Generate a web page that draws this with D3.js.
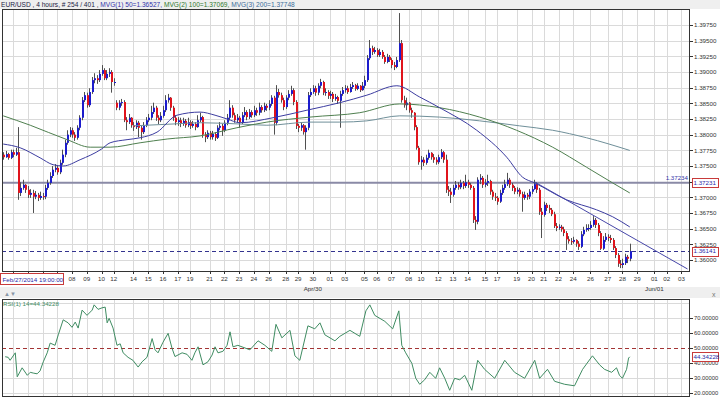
<!DOCTYPE html>
<html>
<head>
<meta charset="utf-8">
<script src="https://cdn.jsdelivr.net/npm/d3@7"></script>
<style>
  body { margin: 0; background: #efefef; }
  svg { display: block; font-family: "Liberation Sans", Arial, sans-serif; }
</style>
</head>
<body>
<svg id="chart" width="720" height="398"></svg>
<script>
// ---- data (EUR/USD 4h) ----
const firstOpen = 1.3768;
const gapOpens = { 46: 1.3851 };

const closes = [
  1.3764,1.3769,1.3763,1.3772,1.3768,1.3772,1.3707,1.3715,1.3720,1.3712,
  1.3704,1.3707,1.3701,1.3704,1.3699,1.3702,1.3701,1.3715,1.3723,1.3734,
  1.3744,1.3747,1.3740,1.3755,1.3768,1.3787,1.3800,1.3807,1.3800,1.3795,
  1.3811,1.3827,1.3855,1.3863,1.3847,1.3868,1.3887,1.3890,1.3887,1.3897,
  1.3903,1.3890,1.3897,1.3900,1.3884,1.3884,1.3843,1.3851,1.3852,1.3823,
  1.3820,1.3827,1.3815,1.3812,1.3819,1.3811,1.3804,1.3815,1.3823,1.3827,
  1.3836,1.3843,1.3827,1.3823,1.3830,1.3839,1.3855,1.3859,1.3843,1.3827,
  1.3820,1.3823,1.3817,1.3822,1.3815,1.3820,1.3814,1.3817,1.3812,1.3823,
  1.3828,1.3800,1.3796,1.3803,1.3796,1.3801,1.3795,1.3811,1.3814,1.3807,
  1.3819,1.3827,1.3843,1.3831,1.3823,1.3827,1.3820,1.3831,1.3836,1.3828,
  1.3836,1.3831,1.3839,1.3835,1.3844,1.3839,1.3846,1.3843,1.3849,1.3859,
  1.3819,1.3868,1.3863,1.3855,1.3844,1.3859,1.3865,1.3871,1.3852,1.3814,
  1.3811,1.3815,1.3804,1.3811,1.3863,1.3868,1.3874,1.3867,1.3878,1.3884,
  1.3867,1.3868,1.3862,1.3865,1.3857,1.3860,1.3854,1.3865,1.3871,1.3874,
  1.3868,1.3876,1.3879,1.3873,1.3878,1.3871,1.3878,1.3887,1.3922,1.3938,
  1.3932,1.3935,1.3927,1.3932,1.3924,1.3916,1.3924,1.3919,1.3911,1.3908,
  1.3919,1.3946,1.3855,1.3847,1.3851,1.3839,1.3835,1.3812,1.3779,1.3756,
  1.3760,1.3755,1.3763,1.3771,1.3764,1.3760,1.3756,1.3764,1.3772,1.3760,
  1.3712,1.3709,1.3704,1.3715,1.3720,1.3716,1.3723,1.3718,1.3724,1.3720,
  1.3715,1.3664,1.3661,1.3728,1.3731,1.3720,1.3723,1.3726,1.3709,1.3701,
  1.3699,1.3693,1.3707,1.3715,1.3721,1.3728,1.3720,1.3715,1.3709,1.3712,
  1.3705,1.3699,1.3704,1.3701,1.3709,1.3713,1.3721,1.3712,1.3677,1.3672,
  1.3688,1.3683,1.3680,1.3673,1.3654,1.3651,1.3653,1.3649,1.3643,1.3633,
  1.3630,1.3629,1.3632,1.3626,1.3621,1.3641,1.3648,1.3651,1.3651,1.3656,
  1.3664,1.3656,1.3643,1.3618,1.3632,1.3637,1.3635,1.3632,1.3619,1.3608,
  1.3594,1.3592,1.3595,1.3605,1.3602,1.36141
];
const highs = [
  1.3772,1.3774,1.3771,1.3776,1.3776,1.3779,1.3812,1.3724,1.3728,1.3721,
  1.3718,1.3713,1.3712,1.3710,1.3707,1.3709,1.3707,1.3720,1.3728,1.3740,
  1.3750,1.3753,1.3750,1.3760,1.3776,1.3792,1.3807,1.3812,1.3811,1.3804,
  1.3815,1.3831,1.3860,1.3868,1.3867,1.3874,1.3892,1.3898,1.3895,1.3903,
  1.3911,1.3906,1.3903,1.3906,1.3903,1.3890,1.3855,1.3855,1.3857,1.3855,
  1.3828,1.3833,1.3828,1.3820,1.3823,1.3822,1.3814,1.3820,1.3828,1.3833,
  1.3846,1.3851,1.3846,1.3831,1.3836,1.3846,1.3863,1.3865,1.3860,1.3846,
  1.3831,1.3828,1.3827,1.3827,1.3825,1.3827,1.3823,1.3822,1.3820,1.3831,
  1.3835,1.3830,1.3804,1.3807,1.3806,1.3806,1.3804,1.3815,1.3820,1.3817,
  1.3823,1.3833,1.3855,1.3847,1.3835,1.3833,1.3830,1.3836,1.3844,1.3839,
  1.3841,1.3839,1.3846,1.3843,1.3851,1.3847,1.3851,1.3849,1.3855,1.3863,
  1.3862,1.3879,1.3873,1.3867,1.3859,1.3863,1.3871,1.3878,1.3874,1.3855,
  1.3817,1.3820,1.3817,1.3815,1.3868,1.3874,1.3879,1.3878,1.3882,1.3889,
  1.3886,1.3874,1.3871,1.3870,1.3868,1.3865,1.3862,1.3870,1.3876,1.3879,
  1.3878,1.3881,1.3884,1.3881,1.3882,1.3879,1.3884,1.3894,1.3927,1.3951,
  1.3942,1.3940,1.3938,1.3937,1.3935,1.3927,1.3929,1.3927,1.3922,1.3916,
  1.3924,1.3994,1.3951,1.3862,1.3859,1.3852,1.3843,1.3836,1.3815,1.3782,
  1.3766,1.3764,1.3768,1.3776,1.3772,1.3769,1.3764,1.3768,1.3777,1.3774,
  1.3768,1.3718,1.3715,1.3720,1.3726,1.3724,1.3728,1.3726,1.3736,1.3728,
  1.3723,1.3718,1.3670,1.3732,1.3737,1.3734,1.3729,1.3736,1.3728,1.3712,
  1.3707,1.3702,1.3712,1.3720,1.3728,1.3739,1.3731,1.3723,1.3718,1.3716,
  1.3715,1.3709,1.3709,1.3707,1.3713,1.3718,1.3728,1.3724,1.3715,1.3683,
  1.3693,1.3691,1.3688,1.3683,1.3677,1.3659,1.3657,1.3656,1.3653,1.3646,
  1.3638,1.3635,1.3637,1.3633,1.3630,1.3646,1.3653,1.3657,1.3657,1.3662,
  1.3670,1.3667,1.3659,1.3646,1.3638,1.3643,1.3641,1.3640,1.3635,1.3622,
  1.3611,1.3600,1.3602,1.3610,1.3608,1.3626
];
const lows = [
  1.3760,1.3763,1.3760,1.3761,1.3764,1.3766,1.3696,1.3702,1.3712,1.3707,
  1.3699,1.3699,1.3675,1.3697,1.3694,1.3696,1.3696,1.3697,1.3712,1.3720,
  1.3731,1.3740,1.3736,1.3737,1.3752,1.3764,1.3784,1.3796,1.3795,1.3790,
  1.3792,1.3807,1.3823,1.3852,1.3843,1.3844,1.3865,1.3882,1.3881,1.3884,
  1.3894,1.3887,1.3887,1.3892,1.3867,1.3878,1.3839,1.3839,1.3846,1.3820,
  1.3807,1.3817,1.3811,1.3806,1.3809,1.3796,1.3792,1.3801,1.3812,1.3820,
  1.3823,1.3833,1.3822,1.3817,1.3820,1.3827,1.3836,1.3851,1.3838,1.3822,
  1.3815,1.3814,1.3812,1.3814,1.3811,1.3812,1.3809,1.3811,1.3807,1.3811,
  1.3820,1.3795,1.3788,1.3793,1.3792,1.3792,1.3790,1.3793,1.3807,1.3798,
  1.3804,1.3815,1.3823,1.3827,1.3819,1.3820,1.3811,1.3817,1.3828,1.3823,
  1.3825,1.3827,1.3828,1.3830,1.3831,1.3835,1.3836,1.3838,1.3839,1.3846,
  1.3800,1.3815,1.3859,1.3851,1.3839,1.3841,1.3855,1.3862,1.3847,1.3809,
  1.3804,1.3806,1.3800,1.3776,1.3807,1.3860,1.3865,1.3862,1.3863,1.3874,
  1.3863,1.3862,1.3857,1.3857,1.3852,1.3854,1.3849,1.3811,1.3862,1.3867,
  1.3865,1.3867,1.3873,1.3870,1.3871,1.3868,1.3870,1.3874,1.3884,1.3919,
  1.3927,1.3929,1.3924,1.3924,1.3921,1.3913,1.3914,1.3916,1.3906,1.3903,
  1.3906,1.3916,1.3851,1.3843,1.3839,1.3835,1.3827,1.3807,1.3776,1.3752,
  1.3744,1.3750,1.3752,1.3760,1.3760,1.3755,1.3752,1.3753,1.3761,1.3755,
  1.3707,1.3702,1.3691,1.3701,1.3712,1.3712,1.3713,1.3713,1.3715,1.3715,
  1.3712,1.3659,1.3648,1.3657,1.3721,1.3715,1.3716,1.3718,1.3704,1.3696,
  1.3694,1.3688,1.3691,1.3704,1.3712,1.3718,1.3715,1.3710,1.3705,1.3705,
  1.3701,1.3677,1.3696,1.3696,1.3697,1.3705,1.3712,1.3707,1.3672,1.3635,
  1.3669,1.3678,1.3675,1.3670,1.3651,1.3646,1.3648,1.3645,1.3638,1.3616,
  1.3626,1.3624,1.3626,1.3621,1.3616,1.3619,1.3638,1.3645,1.3646,1.3648,
  1.3653,1.3651,1.3638,1.3616,1.3616,1.3629,1.3630,1.3627,1.3616,1.3603,
  1.3589,1.3587,1.3587,1.3592,1.3595,1.3598
];

// moving averages, read at candle positions
const ma50Idx = [0,6.9,15,20.3,24.4,31.3,40,43.5,50.4,55.7,62.6,70.7,80.1,86.2,91.1,96.3,109.8,123.6,137,148,160.2,169.5,177.6,192.7,204.9,211.4,216.3,229.3,241.5,248,255];
const ma50Val = [1.3785,1.3779,1.3763,1.3752,1.3750,1.3760,1.3777,1.3787,1.3792,1.3795,1.3804,1.3831,1.3836,1.3831,1.3825,1.3819,1.3827,1.3839,1.3851,1.3863,1.3878,1.3860,1.3843,1.3807,1.3764,1.3732,1.3723,1.3696,1.3680,1.3669,1.36527];
const ma100Idx = [0,11,26,35.4,43.5,55.7,66.7,80.1,95.1,107.3,124.8,145.1,161.4,177.6,193.9,208.9,223.6,237.4,248,255];
const ma100Val = [1.3830,1.3815,1.3792,1.3780,1.3780,1.3787,1.3793,1.3798,1.3811,1.3820,1.3828,1.3835,1.3849,1.3843,1.3828,1.3807,1.3780,1.3748,1.3723,1.37069];
const ma200Idx = [52.8,69.1,80.1,96.3,107.3,124.8,137,148,161.4,177.6,193.9,210.2,223.6,237.4,255];
const ma200Val = [1.3814,1.3817,1.3819,1.3817,1.3815,1.3820,1.3820,1.3822,1.3830,1.3828,1.3822,1.3814,1.3807,1.3795,1.37748];

// RSI(14)
const rsiIdx = [0.8,2,2.8,4.9,5.7,7.7,9.8,11,12.2,13.8,15,16.3,17.9,19.1,21.1,22.4,24.4,26.4,28,29.3,30.5,32.1,34.1,36.2,37,38.6,40.2,41.5,42.3,43.1,44.7,46.3,47.6,48.8,50.8,52.8,54.9,56.5,58.5,60.6,61.8,63,65,67.1,68.7,69.9,72.8,74.8,76.8,78,79.3,81.3,83.3,85,86.2,87.4,89.4,91.1,92.3,93.5,95.5,100.4,103.7,106.5,109.3,111,113.4,116.7,118.7,120.7,124,126.8,128.9,130.9,135,137,141.1,145.1,147.6,149.2,151.2,155.3,158.5,161,162.2,163.8,166.3,167.9,169.5,171.5,173.6,176,177.6,179.7,181.7,183.7,185.8,187.8,190.7,193.1,195.9,200,204.1,208.1,212.2,216.3,218.3,221.5,224.4,228.5,232.5,235.8,239.8,242.7,244.7,247.6,249.6,250.8,252,253.7,254.5,255];
const rsiVal = [44.4,44,42,47,31,37,32,34,33.5,33,35,41,47,53.5,52,59,69,67,64,67.5,63.5,75.5,72,75.5,79,76,77,77.5,67,70,63.5,52,53,47,44,42,37.5,41,44,56.5,49,47,54,60,50,44.5,47,46,42,47,51,39,41,45.5,51,47,48,52,61,51,52,49,55,52,48,66,57,62,45,42,65,63,67,59,55,58,62,58,75,79,72,68,63,75,52,47,40,30,26,29,34,30,37,30,22,30,29,32,22,42,36,30,42,34,30,42,30,36,28,26,25,36,45,39,36,34,37,32,30,36,43.5,44.34228];

// x axis: candle index of each day grid line; first four labels sit under the cursor box
const tickIdx = [4,10,16,22,28,34,40,45,53,59,65,71,76,84,90,96,102,108,115,120,126,133,139,147,152,158,165,170,177,183,189,196,201,209,215,220,226,232,239,246,252,258,265,270,276];
const tickLabels = ["","","","","08","09","10","12","14","15","16","17","19","21","22","23","24","26","28","29","30","01","03","05","06","07","08","10","12","13","14","15","17","19","20","21","22","24","26","27","28","29","01","02","03"];
const monthIdx = [126, 265];
const monthLabels = ["Apr/30", "Jun/01"];

const priceTicks = [1.36,1.3625,1.365,1.3675,1.37,1.3725,1.375,1.3775,1.38,1.3825,1.385,1.3875,1.39,1.3925,1.395,1.3975];
const rsiTicks = [20,30,40,50,60,70,80];

const levelLine = 1.37231, levelText = "1.37234";
const bidPrice = 1.36141;
const trendIdx = [216.3, 278.5];
const trendVal = [1.37245, 1.35856];
const cursorText = "Feb/27/2014 19:00:00";

// ---- layout ----
const W = 720, H = 398;
const L = 2, R = 690, T = 9, B = 271;
const rT = 299, rB = 396;
const slots = 280;

const svg = d3.select("#chart");
const x = d3.scaleLinear().domain([-0.5, slots - 0.5]).range([L, R]);
const y = d3.scaleLinear().domain([1.35824, 1.40005]).range([B, T]);
const yr = d3.scaleLinear().domain([18.2, 82.9]).range([rB, rT]);
const fmt5 = d3.format(".5f");
const px = v => Math.round(v) + 0.5;
const fs = "6.2px";

// panels
svg.append("rect").attr("x", 0).attr("y", T).attr("width", W).attr("height", 278).attr("fill", "#fff");
svg.append("rect").attr("x", 0).attr("y", rT - 1).attr("width", W).attr("height", H - rT + 1).attr("fill", "#fff");

// title
const title = svg.append("text").attr("x", 1).attr("y", 7).style("font-size", "6.6px");
title.append("tspan").attr("fill", "#222244").text("EUR/USD , 4 hours, # 254 / 401 , ");
title.append("tspan").attr("fill", "#3333aa").text("MVG(1) 50=1.36527, ");
title.append("tspan").attr("fill", "#2f7a2f").text("MVG(2) 100=1.37069, ");
title.append("tspan").attr("fill", "#3a6d9a").text("MVG(3) 200=1.37748");

// grid
const grid = svg.append("g").attr("stroke", "#dadada").attr("stroke-width", 1);
grid.selectAll(".hg").data(priceTicks).join("line")
  .attr("x1", L).attr("x2", R).attr("y1", d => px(y(d))).attr("y2", d => px(y(d)));
grid.selectAll(".vg").data(tickIdx).join("line")
  .attr("x1", d => px(x(d))).attr("x2", d => px(x(d))).attr("y1", T).attr("y2", B);
grid.selectAll(".rg").data(rsiTicks.filter(d => d !== 50)).join("line")
  .attr("x1", L).attr("x2", R).attr("y1", d => px(yr(d))).attr("y2", d => px(yr(d)));
grid.selectAll(".rvg").data(tickIdx).join("line")
  .attr("x1", d => px(x(d))).attr("x2", d => px(x(d))).attr("y1", rT).attr("y2", rB);

svg.append("clipPath").attr("id", "clipMain").append("rect")
  .attr("x", L).attr("y", T).attr("width", R - L).attr("height", B - T);
svg.append("clipPath").attr("id", "clipRsi").append("rect")
  .attr("x", L).attr("y", rT).attr("width", R - L).attr("height", rB - rT);

const main = svg.append("g").attr("clip-path", "url(#clipMain)");

// level line and bid line
main.append("line").attr("x1", L).attr("x2", R)
  .attr("y1", y(levelLine)).attr("y2", y(levelLine))
  .attr("stroke", "#8a8aa6").attr("stroke-width", 2);
main.append("line").attr("x1", L).attr("x2", R)
  .attr("y1", px(y(bidPrice))).attr("y2", px(y(bidPrice)))
  .attr("stroke", "#33338f").attr("stroke-dasharray", "4,3");

// candles
const candles = closes.map((c, i) => ({
  i, c, h: highs[i], l: lows[i],
  o: i === 0 ? firstOpen : (gapOpens[i] !== undefined ? gapOpens[i] : closes[i - 1])
}));
main.selectAll(".wick").data(candles).join("line")
  .attr("x1", d => Math.round(x(d.i)) + 0.5).attr("x2", d => Math.round(x(d.i)) + 0.5)
  .attr("y1", d => y(d.h)).attr("y2", d => y(d.l))
  .attr("stroke", "#505050").attr("stroke-width", 1);
main.selectAll(".body").data(candles).join("rect")
  .attr("x", d => Math.round(x(d.i)))
  .attr("width", 2)
  .attr("y", d => Math.min(y(d.o), y(d.c)))
  .attr("height", d => Math.max(1, Math.abs(y(d.o) - y(d.c))))
  .attr("fill", d => d.c >= d.o ? "#1c1ccc" : "#e0141c");

// moving averages
const maLine = d3.line().x(d => x(d[0])).y(d => y(d[1])).curve(d3.curveMonotoneX);
const mas = [
  [ma200Idx, ma200Val, "#6f8f99"],
  [ma100Idx, ma100Val, "#4f7f4f"],
  [ma50Idx, ma50Val, "#3c3ca0"]
];
mas.forEach(([ix, vs, col]) => {
  main.append("path").datum(ix.map((v, k) => [v, vs[k]]))
    .attr("d", maLine).attr("fill", "none").attr("stroke", col).attr("stroke-width", 1);
});

// trend line
main.append("line")
  .attr("x1", x(trendIdx[0])).attr("y1", y(trendVal[0]))
  .attr("x2", x(trendIdx[1])).attr("y2", y(trendVal[1]))
  .attr("stroke", "#4646a8").attr("stroke-width", 1);

main.append("text").attr("x", R - 2).attr("y", y(levelLine) - 3)
  .attr("text-anchor", "end").attr("fill", "#3333aa").style("font-size", fs).text(levelText);

// main frame
svg.append("rect").attr("x", L + 0.5).attr("y", T + 0.5).attr("width", R - L - 1).attr("height", B - T)
  .attr("fill", "none").attr("stroke", "#333");

// right price axis
const ax = svg.append("g").style("font-size", fs).attr("fill", "#333");
const shown = priceTicks.filter(d => Math.abs(d - 1.3725) > 1e-6);
ax.selectAll("line").data(priceTicks).join("line")
  .attr("x1", R).attr("x2", R + 3).attr("y1", d => px(y(d))).attr("y2", d => px(y(d))).attr("stroke", "#333");
ax.selectAll("text").data(shown).join("text")
  .attr("x", R + 4).attr("y", d => y(d) + 2.2).text(d => fmt5(d));

function tag(yc, label) {
  const g = svg.append("g");
  g.append("rect").attr("x", R + 2.5).attr("y", Math.round(yc - 4.5) + 0.5).attr("width", 26).attr("height", 9)
    .attr("fill", "#fff").attr("stroke", "#c83a3a");
  g.append("text").attr("x", R + 3.5).attr("y", yc + 2.2).attr("fill", "#2a2aa8")
    .style("font-size", fs).text(label);
}
tag(y(levelLine), "1.37231");
tag(y(bidPrice), fmt5(bidPrice));

// x axis
const xa = svg.append("g").style("font-size", fs).attr("fill", "#333");
xa.selectAll("line").data(tickIdx).join("line")
  .attr("x1", d => px(x(d))).attr("x2", d => px(x(d))).attr("y1", B).attr("y2", B + 3).attr("stroke", "#333");
const dayTicks = tickIdx.map((d, k) => [d, tickLabels[k]]).filter(d => d[1] !== "");
xa.selectAll(".d").data(dayTicks).join("text")
  .attr("x", d => x(d[0])).attr("y", 281).attr("text-anchor", "middle").text(d => d[1]);
xa.selectAll(".m").data(monthIdx).join("text")
  .attr("x", d => x(d)).attr("y", 291).attr("text-anchor", "middle").text((d, k) => monthLabels[k]);

// cursor time box
svg.append("rect").attr("x", 0.5).attr("y", 273.5).attr("width", 63).attr("height", 11)
  .attr("fill", "#fff").attr("stroke", "#c83a3a");
svg.append("text").attr("x", 2.5).attr("y", 281.5).attr("fill", "#2a2aa8").style("font-size", fs).text(cursorText);

// panel separator icons
svg.append("text").attr("x", 4).attr("y", 296).attr("fill", "#8896a6").style("font-size", "6px").text("▲▼");
svg.append("text").attr("x", 712).attr("y", 297).attr("fill", "#777").style("font-size", "7px").text("x");

// RSI panel
const rsiG = svg.append("g").attr("clip-path", "url(#clipRsi)");
rsiG.append("line").attr("x1", L).attr("x2", R).attr("y1", px(yr(50))).attr("y2", px(yr(50)))
  .attr("stroke", "#a33434").attr("stroke-dasharray", "4,3");
rsiG.append("path").datum(rsiIdx.map((v, k) => [v, rsiVal[k]]))
  .attr("d", d3.line().x(d => x(d[0])).y(d => yr(d[1])))
  .attr("fill", "none").attr("stroke", "#3f8c62").attr("stroke-width", 1);

svg.append("rect").attr("x", L + 0.5).attr("y", rT + 0.5).attr("width", R - L - 1).attr("height", rB - rT)
  .attr("fill", "none").attr("stroke", "#333");
svg.append("text").attr("x", 3).attr("y", 306).attr("fill", "#3f8c62").style("font-size", fs)
  .text("RSI(1) 14=" + rsiVal[rsiVal.length - 1].toFixed(5));

const ra = svg.append("g").style("font-size", "5.8px").attr("fill", "#333");
const rsiShown = rsiTicks.filter(d => d <= 70);
ra.selectAll("line").data(rsiShown).join("line")
  .attr("x1", R).attr("x2", R + 3).attr("y1", d => px(yr(d))).attr("y2", d => px(yr(d))).attr("stroke", "#333");
ra.selectAll("text").data(rsiShown).join("text")
  .attr("x", R + 4).attr("y", d => yr(d) + 2).text(d => d.toFixed(5));
tag(yr(rsiVal[rsiVal.length - 1]), rsiVal[rsiVal.length - 1].toFixed(5));
</script>
</body>
</html>
